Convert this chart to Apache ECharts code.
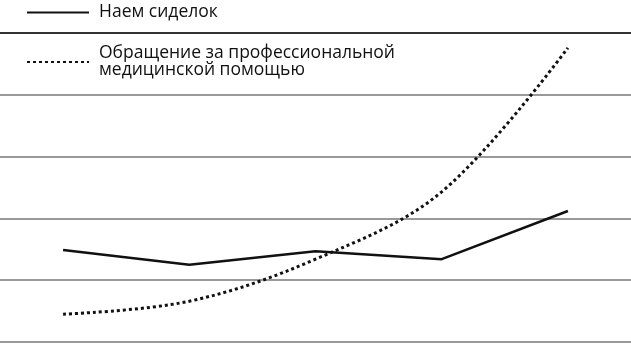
<!DOCTYPE html>
<html><head><meta charset="utf-8">
<script src="https://cdn.jsdelivr.net/npm/echarts@6/dist/echarts.min.js"></script>
<style>html,body{margin:0;padding:0;background:#fff}#c{width:631px;height:344px}</style>
</head><body><div id="c"></div>
<script>
var categories = ['1', '2', '3', '4', '5'];
var seriesNames = ['Наем сиделок', 'Обращение за профессиональной медицинской помощью'];
var legendLabels = ['Наем сиделок', 'Обращение за профессиональной\nмедицинской помощью'];
var hireNurses = [1.49, 1.25, 1.47, 1.34, 2.12];
var medicalHelp = [0.45, 0.66, 1.34, 2.43, 4.76];

var chart = echarts.init(document.getElementById('c'));
chart.setOption({
  animation: false,
  grid: {left: 0, right: 0, top: 33, bottom: 2},
  legend: {
    orient: 'vertical', left: 26, top: 1, padding: 0,
    itemWidth: 62, itemHeight: 14, itemGap: 18,
    data: seriesNames,
    itemStyle: {opacity: 0},
    formatter: function (n) { return legendLabels[seriesNames.indexOf(n)]; },
    textStyle: {fontFamily: 'Open Sans', fontSize: 17.5, color: '#111', lineHeight: 17, padding: [0, 0, 6, 5]}
  },
  xAxis: {type: 'category', data: categories, boundaryGap: true, position: 'top',
    axisLine: {show: true, onZero: false, lineStyle: {color: '#111', width: 1.5}},
    axisTick: {show: false}, axisLabel: {show: false}, splitLine: {show: false}},
  yAxis: {type: 'value', min: 0, max: 5, interval: 1,
    axisLabel: {show: false}, axisLine: {show: false}, axisTick: {show: false},
    splitLine: {lineStyle: {color: '#777', width: 1.5}}},
  series: [
    {name: seriesNames[0], type: 'line', data: hireNurses, symbol: 'none',
      lineStyle: {color: '#111', width: 2.5}, itemStyle: {color: '#111'}},
    {name: seriesNames[1], type: 'line', data: medicalHelp, symbol: 'none', smooth: 0.35,
      lineStyle: {color: '#111', width: 3, type: [3, 3]}, itemStyle: {color: '#111'}}
  ]
});
</script></body></html>
